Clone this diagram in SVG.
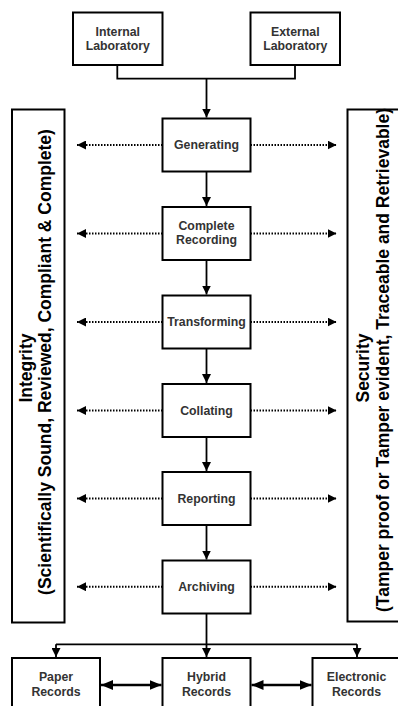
<svg xmlns="http://www.w3.org/2000/svg" width="398" height="706" viewBox="0 0 398 706">
<defs>
<marker id="ah" markerUnits="userSpaceOnUse" markerWidth="10" markerHeight="9" refX="9" refY="4.5" orient="auto">
<path d="M0,0 L9,4.5 L0,9 z" fill="#000"/>
</marker>
<marker id="ahb" markerUnits="userSpaceOnUse" markerWidth="13" markerHeight="10" refX="12" refY="5" orient="auto-start-reverse">
<path d="M0,0 L12,5 L0,10 z" fill="#000"/>
</marker>
<style>
.box{fill:#fff;stroke:#000;stroke-width:2}
.lbl{font-family:"Liberation Sans",Arial,sans-serif;font-weight:bold;font-size:12.3px;fill:#333;text-anchor:middle}
.side{font-family:"Liberation Sans",Arial,sans-serif;font-weight:bold;font-size:17.5px;fill:#000;text-anchor:middle}
.ln{fill:none;stroke:#000;stroke-width:1.8}
.dot{fill:none;stroke:#000;stroke-width:2;stroke-dasharray:1.5 1.5}
.dbl{fill:none;stroke:#000;stroke-width:2.5}
</style>
</defs>

<g id="connectors">
<path class="ln" d="M117.3,65 V78.7 H295 V65"/>
<path class="ln" d="M206.5,78.7 V117.5" marker-end="url(#ah)"/>
<path class="ln" d="M206.5,171.5 V206" marker-end="url(#ah)"/>
<path class="ln" d="M206.5,260 V294.5" marker-end="url(#ah)"/>
<path class="ln" d="M206.5,348.5 V383" marker-end="url(#ah)"/>
<path class="ln" d="M206.5,437 V471" marker-end="url(#ah)"/>
<path class="ln" d="M206.5,525 V559.5" marker-end="url(#ah)"/>
<path class="ln" d="M206.5,613.5 V657" marker-end="url(#ah)"/>
<path class="ln" d="M56,644.3 H357"/>
<path class="ln" d="M56,644.3 V657" marker-end="url(#ah)"/>
<path class="ln" d="M357,644.3 V657" marker-end="url(#ah)"/>
<path class="dot" d="M162.5,145 H77" marker-end="url(#ah)"/>
<path class="dot" d="M250.5,145 H336.5" marker-end="url(#ah)"/>
<path class="dot" d="M162.5,233.5 H77" marker-end="url(#ah)"/>
<path class="dot" d="M250.5,233.5 H336.5" marker-end="url(#ah)"/>
<path class="dot" d="M162.5,322 H77" marker-end="url(#ah)"/>
<path class="dot" d="M250.5,322 H336.5" marker-end="url(#ah)"/>
<path class="dot" d="M162.5,410.5 H77" marker-end="url(#ah)"/>
<path class="dot" d="M250.5,410.5 H336.5" marker-end="url(#ah)"/>
<path class="dot" d="M162.5,498.5 H77" marker-end="url(#ah)"/>
<path class="dot" d="M250.5,498.5 H336.5" marker-end="url(#ah)"/>
<path class="dot" d="M162.5,586.7 H77" marker-end="url(#ah)"/>
<path class="dot" d="M250.5,586.7 H336.5" marker-end="url(#ah)"/>
<path class="dbl" d="M101,685 H161.5" marker-start="url(#ahb)" marker-end="url(#ahb)"/>
<path class="dbl" d="M251.5,685 H311.5" marker-start="url(#ahb)" marker-end="url(#ahb)"/>
</g>

<g id="internal-lab"><rect class="box" x="73" y="12.5" width="89.5" height="52.5"/>
<text class="lbl" x="117.8" y="36">Internal</text><text class="lbl" x="117.8" y="50">Laboratory</text></g>
<g id="external-lab"><rect class="box" x="250.5" y="12.5" width="89.5" height="52.5"/>
<text class="lbl" x="295.3" y="36">External</text><text class="lbl" x="295.3" y="50">Laboratory</text></g>

<g id="integrity"><rect class="box" x="12" y="109.5" width="52.5" height="513"/>
<text class="side" transform="translate(32.3,368) rotate(-90)">Integrity</text>
<text class="side" transform="translate(51,362) rotate(-90)">(Scientifically Sound, Reviewed, Compliant &amp; Complete)</text></g>
<g id="security"><rect class="box" x="347.5" y="109.5" width="60" height="512"/>
<text class="side" transform="translate(369.3,368) rotate(-90)">Security</text>
<text class="side" transform="translate(388.5,360) rotate(-90)">(Tamper proof or Tamper evident, Traceable and Retrievable)</text></g>

<g id="generating"><rect class="box" x="162.5" y="118.5" width="88" height="53"/>
<text class="lbl" x="206.5" y="149.3">Generating</text></g>
<g id="complete-recording"><rect class="box" x="162.5" y="207" width="88" height="53"/>
<text class="lbl" x="206.5" y="230">Complete</text><text class="lbl" x="206.5" y="243.8">Recording</text></g>
<g id="transforming"><rect class="box" x="162.5" y="295.5" width="88" height="53"/>
<text class="lbl" x="206.5" y="326.3">Transforming</text></g>
<g id="collating"><rect class="box" x="162.5" y="384" width="88" height="53"/>
<text class="lbl" x="206.5" y="414.8">Collating</text></g>
<g id="reporting"><rect class="box" x="162.5" y="472" width="88" height="53"/>
<text class="lbl" x="206.5" y="502.8">Reporting</text></g>
<g id="archiving"><rect class="box" x="162.5" y="560.5" width="88" height="53"/>
<text class="lbl" x="206.5" y="591">Archiving</text></g>

<g id="paper-records"><rect class="box" x="12" y="658" width="88" height="60"/>
<text class="lbl" x="56" y="681">Paper</text><text class="lbl" x="56" y="695.5">Records</text></g>
<g id="hybrid-records"><rect class="box" x="162.5" y="658" width="88" height="60"/>
<text class="lbl" x="206.5" y="681">Hybrid</text><text class="lbl" x="206.5" y="695.5">Records</text></g>
<g id="electronic-records"><rect class="box" x="312.5" y="658" width="88" height="60"/>
<text class="lbl" x="356.5" y="681">Electronic</text><text class="lbl" x="356.5" y="695.5">Records</text></g>
</svg>
